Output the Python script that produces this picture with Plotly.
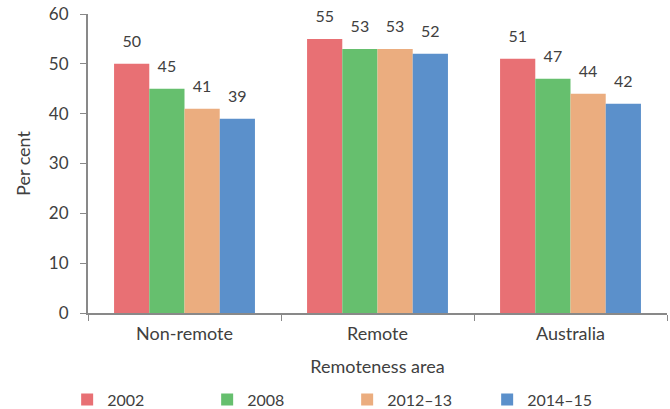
import plotly.graph_objects as go

areas = ["Non-remote", "Remote", "Australia"]
years = ["2002", "2008", "2012–13", "2014–15"]
v2002 = [50, 55, 51]
v2008 = [45, 53, 47]
v2012 = [41, 53, 44]
v2014 = [39, 52, 42]
colors = ["#E87074", "#66BF6E", "#EBAD7F", "#5B90CB"]

fig = go.Figure()
for name, vals, col in zip(years, [v2002, v2008, v2012, v2014], colors):
    fig.add_trace(go.Bar(
        name=name, x=areas, y=vals, marker_color=col, marker_line_width=0,
        text=[f"<span style='font-size:16px'>{v}</span><br> " for v in vals],
        textposition="outside", cliponaxis=False,
        textfont=dict(size=9, color="#404040"),
    ))

fig.update_layout(
    barmode="group", bargap=0.27, bargroupgap=0,
    width=670, height=409,
    margin=dict(l=88, r=3, t=14, b=96, autoexpand=False),
    plot_bgcolor="white", paper_bgcolor="white",
    font=dict(family="Lato, Open Sans, sans-serif", size=15, color="#404040"),
    legend=dict(orientation="h", x=-0.036, xanchor="left", y=-0.29, yanchor="middle",
                font=dict(size=16), itemwidth=30, tracegroupgap=0,
                entrywidth=95, entrywidthmode="pixels"),
    showlegend=True,
)
fig.update_yaxes(range=[0, 60], dtick=10, showgrid=False, showline=True,
                 linecolor="#898989", linewidth=2, ticks="outside", ticklen=6,
                 tickcolor="#898989", tickfont=dict(size=17), ticklabelstandoff=8,
                 title=dict(text="Per cent", standoff=14, font=dict(size=18)),
                 zeroline=False)
fig.update_xaxes(showline=True, linecolor="#898989", linewidth=2, ticks="outside",
                 ticklen=6, tickcolor="#898989", tickson="boundaries",
                 tickfont=dict(size=18), ticklabelstandoff=3,
                 title=dict(text="Remoteness area", standoff=18, font=dict(size=18)))
fig.write_html("out.html", config={"displayModeBar": False},
               post_script="document.body.style.margin='0px';")
